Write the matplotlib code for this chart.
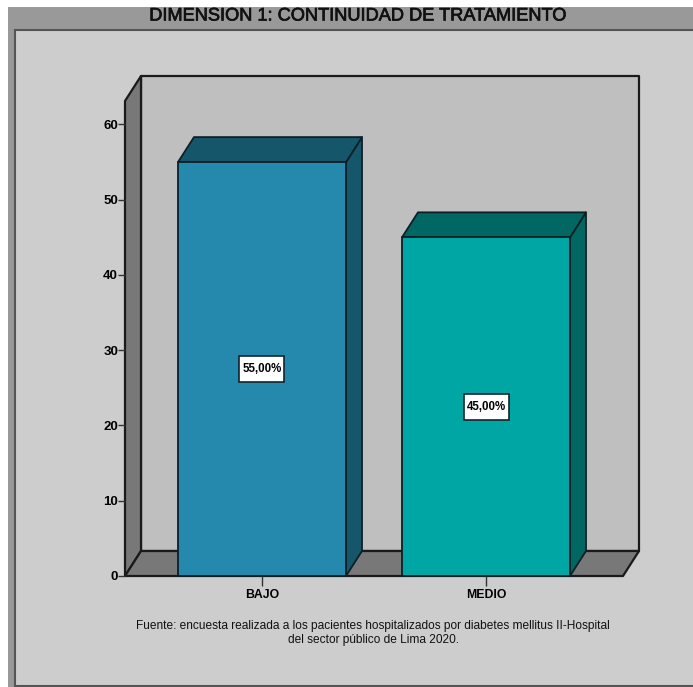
import matplotlib
matplotlib.use('Agg')
import matplotlib.pyplot as plt
import matplotlib.patheffects as pe
from matplotlib.patches import Polygon, Rectangle

plt.rcParams['font.family'] = ['Liberation Sans', 'DejaVu Sans']

categories = ['BAJO', 'MEDIO']
values = [55, 45]
value_labels = ['55,00%', '45,00%']
y_ticks = [0, 10, 20, 30, 40, 50, 60]
title = 'DIMENSION 1: CONTINUIDAD DE TRATAMIENTO'
source = ('Fuente: encuesta realizada a los pacientes hospitalizados por diabetes mellitus II-Hospital\n'
          'del sector público de Lima 2020.')
front_colors = ['#2489ad', '#00a6a4']
top_colors = ['#15566b', '#006763']
side_colors = ['#15566b', '#006763']

W, H = 693, 687
fig = plt.figure(figsize=(W / 100, H / 100), dpi=100, facecolor='white')

# frame around the plot, in pixel units
bg = fig.add_axes([0, 0, 1, 1])
bg.set_xlim(0, W)
bg.set_ylim(H, 0)
bg.axis('off')
bg.add_patch(Rectangle((8, 7), W - 8, H - 7, fc='#999999', ec='none'))
bg.add_patch(Rectangle((15, 30), W, 656, fc='#cdcdcd', ec='#555555', lw=1.5))
t = bg.text(357, 16, title, ha='center', va='center', fontsize=13.1, color='#111111')
t.set_path_effects([pe.withStroke(linewidth=0.5, foreground='#111111')])
bg.text(373, 633, source, ha='center', va='center', fontsize=8.6, color='#111111', linespacing=1.3)

# axes covers the front plane of the 3D box
left, right, bottom, top = 125, 623, 576, 101
ax = fig.add_axes([left / W, 1 - bottom / H, (right - left) / W, (bottom - top) / H])
ax.set_xlim(-0.6116, 1.6116)
ax.set_ylim(0, 63.12)
ax.patch.set_alpha(0)
for s in ax.spines.values():
    s.set_visible(False)

x0, x1 = ax.get_xlim()
ytop = ax.get_ylim()[1]
dx = 16 / 224
dy = 25 / 7.525
wall = dict(ec='#1a1a1a', lw=1.6, joinstyle='round', clip_on=False)

# back wall, left wall, floor
ax.add_patch(Polygon([(x0 + dx, dy), (x1 + dx, dy), (x1 + dx, ytop + dy), (x0 + dx, ytop + dy)], fc='#bfbfbf', **wall))
ax.add_patch(Polygon([(x0, 0), (x0 + dx, dy), (x0 + dx, ytop + dy), (x0, ytop)], fc='#787878', **wall))
ax.add_patch(Polygon([(x0, 0), (x1, 0), (x1 + dx, dy), (x0 + dx, dy)], fc='#787878', **wall))

bar_w = 0.75
box_w = 45 / 224
box_h = 26 / 7.525
edge = dict(ec='#0d1f26', lw=1.3, joinstyle='round', clip_on=False)
for i, v in enumerate(values):
    a, b = i - bar_w / 2, i + bar_w / 2
    ax.add_patch(Polygon([(b, 0), (b + dx, dy), (b + dx, v + dy), (b, v)], fc=side_colors[i], **edge))
    ax.add_patch(Polygon([(a, v), (b, v), (b + dx, v + dy), (a + dx, v + dy)], fc=top_colors[i], **edge))
    ax.add_patch(Rectangle((a, 0), bar_w, v, fc=front_colors[i], **edge))
    # white value box in the middle of the bar
    ax.add_patch(Rectangle((i - box_w / 2, v / 2 - box_h / 2), box_w, box_h, fc='white', ec='#10242c', lw=1.2))
    ax.text(i, v / 2, value_labels[i], ha='center', va='center', fontsize=8.3, fontweight='bold', color='black')

ax.set_xticks(range(len(categories)))
ax.set_xticklabels(categories, fontsize=8.8, fontweight='bold')
ax.set_yticks(y_ticks)
ax.set_yticklabels(y_ticks, fontsize=9.5, fontweight='bold')
ax.tick_params(axis='x', length=7, width=1, color='#333333', pad=2)
ax.tick_params(axis='y', length=5, width=1, color='#333333', pad=0)

fig.savefig('out.png', dpi=100)
